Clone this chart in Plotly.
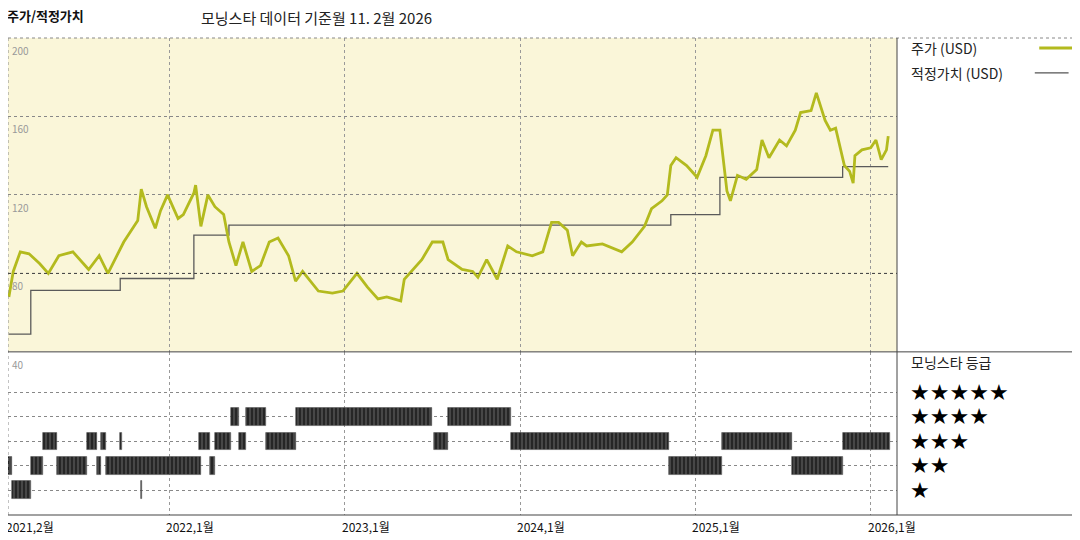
import plotly.graph_objects as go

# ---- data ----
price_t = [2021.085,2021.11,2021.15,2021.20,2021.26,2021.31,2021.37,2021.45,2021.54,2021.60,2021.65,2021.74,2021.82,2021.84,2021.87,2021.92,2021.95,2021.99,
           2022.05,2022.08,2022.14,2022.15,2022.18,2022.22,2022.26,2022.31,2022.34,2022.38,2022.42,2022.47,2022.52,2022.57,2022.62,2022.68,2022.72,2022.76,2022.85,2022.93,2022.99,
           2023.07,2023.13,2023.19,2023.24,2023.32,2023.34,2023.39,2023.44,2023.50,2023.56,2023.59,2023.67,2023.73,2023.76,2023.81,2023.87,2023.93,2023.98,
           2024.07,2024.13,2024.18,2024.22,2024.27,2024.30,2024.35,2024.38,2024.47,2024.58,2024.64,2024.71,2024.75,2024.81,2024.84,2024.86,2024.89,2024.95,
           2025.01,2025.06,2025.10,2025.14,2025.18,2025.20,2025.24,2025.29,2025.35,2025.38,2025.42,2025.48,2025.52,2025.57,2025.60,2025.66,2025.69,2025.72,2025.74,2025.77,2025.80,2025.85,2025.88,2025.90,2025.91,2025.95,
           2026.00,2026.03,2026.06,2026.09,2026.10]
price = [68,81,91,90,85,80,89,91,82,89,80,96,107,123,114,103,112,120,
         108,110,121,125,104,120,114,110,96,84,96,81,84,96,98,89,76,81,71,70,71,
         80,73,67,68,66,77,82,87,96,96,87,82,81,78,87,77,94,91,
         89,91,106,106,102,89,96,94,95,91,96,104,113,117,120,135,139,135,
         129,140,153,153,122,117,130,128,133,148,139,148,145,153,162,163,172,163,158,153,154,135,132,126,140,143,
         144,148,138,143,150]

fv_t = [2021.085,2021.21,2021.72,2022.14,2022.34,2024.86,2025.14,2025.84,2026.10]
fv = [49,71.3,77.4,99.5,104.6,110,129,134.4,134.4]

rating_start = [2022.35,2022.44,2022.72,2023.59,
                2021.28,2021.53,2021.61,2021.72,2022.17,2022.26,2022.40,2022.55,2023.51,2023.95,2025.15,2025.84,
                2021.07,2021.21,2021.36,2021.59,2021.64,2022.23,2024.85,2025.55,
                2021.10,2021.84]
rating_end = [2022.40,2022.55,2023.50,2023.95,
              2021.36,2021.59,2021.64,2021.73,2022.23,2022.35,2022.44,2022.72,2023.59,2024.85,2025.55,2026.11,
              2021.10,2021.28,2021.53,2021.61,2022.18,2022.26,2025.15,2025.84,
              2021.21,2021.845]
rating_val = [4]*4 + [3]*12 + [2]*8 + [1]*2

x_tick_vals = [2021.085,2022,2023,2024,2025,2026]
x_tick_text = ["2021,2월","2022,1월","2023,1월","2024,1월","2025,1월","2026,1월"]
y_tick_vals = [200,160,120,80]

FONT = "Noto Sans CJK KR, Noto Sans, sans-serif"
GREEN = "#B3BA1E"

fig = go.Figure()
fig.add_trace(go.Scatter(x=fv_t, y=fv, mode="lines", line=dict(color="#5a5a5a", width=1.3, shape="hv"),
                         xaxis="x", yaxis="y", showlegend=False))
fig.add_trace(go.Scatter(x=price_t, y=price, mode="lines", line=dict(color=GREEN, width=2.8),
                         xaxis="x", yaxis="y", showlegend=False))
fig.add_trace(go.Bar(base=rating_start, x=[e - s for s, e in zip(rating_start, rating_end)], y=rating_val,
                     orientation="h", width=0.72, xaxis="x2", yaxis="y2", showlegend=False,
                     marker=dict(color="#222", line=dict(width=0.6, color="#555"),
                                 pattern=dict(shape="|", fgcolor="#aaaaaa", bgcolor="#262626", size=4, solidity=0.25))))

xr = [2021.08, 2026.15]
fig.update_layout(
    width=1072, height=532, margin=dict(l=0, r=183, t=30, b=25),
    paper_bgcolor="white", plot_bgcolor="white", font=dict(family=FONT),
    bargap=0,
    xaxis=dict(domain=[0, 1], range=xr, anchor="y", tickvals=[2022,2023,2024,2025,2026], showticklabels=False,
               showgrid=True, gridcolor="#999", griddash="dot", gridwidth=1, zeroline=False),
    yaxis=dict(domain=[0.342, 1], range=[40, 200], tickvals=[160,120,80], showticklabels=False,
               showgrid=True, gridcolor="#888", griddash="dot", zeroline=False),
    xaxis2=dict(domain=[0, 1], range=xr, anchor="y2", tickvals=[2022,2023,2024,2025,2026], showticklabels=False,
                showgrid=True, gridcolor="#999", griddash="dot", zeroline=False),
    yaxis2=dict(domain=[0, 0.342], range=[-0.02, 6.67], tickvals=[1,2,3,4,5], showticklabels=False,
                showgrid=True, gridcolor="#888", griddash="dot", zeroline=False),
)

shapes = [
    dict(type="rect", xref="x", yref="y", x0=xr[0], x1=xr[1], y0=40, y1=200, fillcolor="#FAF6D9", line=dict(width=0), layer="below"),
    dict(type="line", xref="paper", yref="paper", x0=0, x1=1.205, y0=1, y1=1, line=dict(color="#888", width=1, dash="dot")),
    dict(type="line", xref="paper", yref="paper", x0=0, x1=0, y0=0, y1=1, line=dict(color="#888", width=1, dash="dot")),
    dict(type="line", xref="paper", yref="paper", x0=0, x1=1.205, y0=0.342, y1=0.342, line=dict(color="#444", width=1)),
    dict(type="line", xref="paper", yref="paper", x0=1, x1=1, y0=0, y1=1, line=dict(color="#444", width=1)),
    dict(type="line", xref="paper", yref="paper", x0=0, x1=1.205, y0=0, y1=0, line=dict(color="#444", width=1.2)),
    dict(type="line", xref="x", yref="y", x0=xr[0], x1=xr[1], y0=80, y1=80, line=dict(color="#444", width=1, dash="dot")),
    dict(type="line", xref="paper", yref="paper", x0=1.16, x1=1.2, y0=0.979, y1=0.979, line=dict(color=GREEN, width=2.8)),
    dict(type="line", xref="paper", yref="paper", x0=1.155, x1=1.193, y0=0.927, y1=0.927, line=dict(color="#555", width=1.3)),
]
fig.update_layout(shapes=shapes)

ann = [
    dict(text="<b>주가/적정가치</b>", xref="paper", yref="paper", x=-0.003, y=1.048, xanchor="left", yanchor="middle", font=dict(size=13, color="#111")),
    dict(text="모닝스타 데이터 기준월 11. 2월 2026", xref="paper", yref="paper", x=0.215, y=1.043, xanchor="left", yanchor="middle", font=dict(size=15, color="#222")),
    dict(text="주가 (USD)", xref="paper", yref="paper", x=1.013, y=0.979, xanchor="left", yanchor="middle", font=dict(size=14, color="#222")),
    dict(text="적정가치 (USD)", xref="paper", yref="paper", x=1.013, y=0.927, xanchor="left", yanchor="middle", font=dict(size=14, color="#222")),
    dict(text="모닝스타 등급", xref="paper", yref="paper", x=1.013, y=0.32, xanchor="left", yanchor="middle", font=dict(size=14, color="#222")),
]
for r in range(1, 6):
    ann.append(dict(text="★" * r, xref="paper", yref="y2", x=1.012, y=r, xanchor="left", yanchor="middle",
                    showarrow=False, font=dict(size=22, color="#000", family="DejaVu Sans")))
for v in y_tick_vals + [40]:
    ann.append(dict(text=str(v), xref="paper", yref="y", x=0.002, y=v, xanchor="left", yanchor="top", yshift=-3,
                    font=dict(size=10, color="#999")))
for v, t in zip(x_tick_vals, x_tick_text):
    ann.append(dict(text=t, xref="x2", yref="paper", x=v, y=0, xanchor="left", yanchor="top", xshift=-5, yshift=-1,
                    font=dict(size=12, color="#111")))
for a in ann:
    a.setdefault("showarrow", False)
fig.update_layout(annotations=ann)

fig.write_html("out.html")
